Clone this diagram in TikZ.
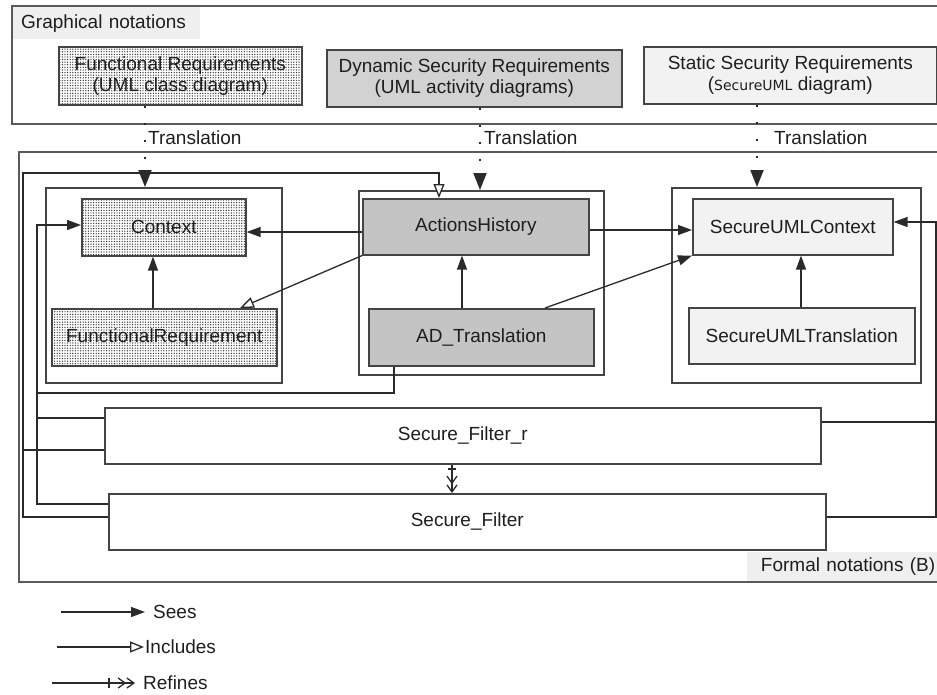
\documentclass[tikz,border=0pt]{standalone}
\usepackage{fontspec}
\setmainfont{Liberation Sans}
\newfontfamily\smallsans{DejaVu Sans}
\usetikzlibrary{arrows.meta,patterns.meta,calc}
\definecolor{txt}{HTML}{1E1E1E}
\definecolor{darkG}{HTML}{C4C4C4}
\definecolor{midG}{HTML}{D2D2D2}
\definecolor{lightG}{HTML}{F2F2F2}
\definecolor{labelG}{HTML}{EFEFEF}
\definecolor{frameC}{HTML}{5A5A5A}
\definecolor{boxC}{HTML}{444444}
\definecolor{lineC}{HTML}{2A2A2A}
\begin{document}
\begin{tikzpicture}[x=1pt,y=-1pt,
  font=\fontsize{19}{21}\selectfont,
  every node/.style={text=txt},
  frame/.style={draw=frameC, line width=2pt, anchor=north west, inner sep=0pt},
  cls/.style={draw=boxC, line width=1.6pt, anchor=north west, inner sep=0pt, align=center},
  dotcls/.style={cls, preaction={fill=white}, pattern={Dots[distance=2.6pt,radius=0.7pt]}, pattern color=black!80},
  darkcls/.style={cls, fill=darkG},
  lightcls/.style={cls, fill=lightG},
  modbox/.style={draw=boxC, line width=1.6pt, anchor=north west, inner sep=0pt},
  conn/.style={draw=lineC, line width=1.3pt},
  sees/.style={conn, -{Triangle[length=14pt,width=10pt]}},
  incl/.style={conn, -{Triangle[open,length=14pt,width=11pt,fill=white]}},
  refines/.style={conn, -{Straight Barb[length=7pt,width=10pt] Straight Barb[length=7pt,width=10pt]}},
  transl/.style={draw=lineC, line width=2pt, dash pattern=on 2pt off 15pt, -{Triangle[length=17pt,width=13pt]}},
  lbl/.style={anchor=west, inner sep=0pt},
]
\useasboundingbox (0,0) rectangle (937,694);

% graphical notations
\node[fill=labelG, anchor=north west, minimum height=32pt, text width=170pt, inner xsep=9pt, inner ysep=0pt, align=left] (glabel) at (12,7) {Graphical notations};
\node[frame, minimum width=935pt, minimum height=118pt] (gframe) at (11,5) {};

\node[dotcls, minimum width=243pt, minimum height=58pt] (fr) at (58,46) {Functional Requirements\\(UML class diagram)};
\node[cls, fill=midG, minimum width=295pt, minimum height=57pt] (dsr) at (326,49) {Dynamic Security Requirements\\(UML activity diagrams)};
\node[lightcls, minimum width=293pt, minimum height=57pt] (ssr) at (643,46) {Static Security Requirements\\({\smallsans\fontsize{14}{16}\selectfont SecureUML} diagram)};

% formal notations
\node[fill=labelG, anchor=north west, minimum height=29pt, text width=186pt, inner xsep=2pt, inner ysep=0pt, align=right] (flabel) at (747,552) {Formal notations (B)};
\node[frame, minimum width=930pt, minimum height=430pt] (fframe) at (18,151) {};

\node[modbox, minimum width=236pt, minimum height=195pt] (m1) at (45,187) {};
\node[modbox, minimum width=245pt, minimum height=184pt] (m2) at (358,190) {};
\node[modbox, minimum width=249pt, minimum height=195pt] (m3) at (671,187) {};

\node[dotcls, minimum width=164pt, minimum height=57pt] (ctx) at (81,198) {Context};
\node[dotcls, minimum width=225pt, minimum height=57pt] (freq) at (51,308) {FunctionalRequirement};
\node[darkcls, minimum width=226pt, minimum height=56pt] (ah) at (362,198) {ActionsHistory};
\node[darkcls, minimum width=225pt, minimum height=57pt] (adt) at (368,308) {AD\_Translation};
\node[lightcls, minimum width=200pt, minimum height=56pt] (suc) at (692,198) {SecureUMLContext};
\node[lightcls, minimum width=226pt, minimum height=56pt] (sut) at (688,307) {SecureUMLTranslation};
\node[cls, fill=white, minimum width=716pt, minimum height=56pt] (sfr) at (104,407) {Secure\_Filter\_r};
\node[cls, fill=white, minimum width=717pt, minimum height=56pt] (sf) at (108,493) {Secure\_Filter};

% translations
\draw[transl] (fr.south -| 145,0) -- (m1.north -| 145,0);
\draw[transl] (dsr.south -| 480,0) -- (m2.north -| 480,0);
\draw[transl] (ssr.south -| 757,0) -- (m3.north -| 757,0);
\node[lbl] (t1) at (148,138) {Translation};
\node[lbl] (t2) at (484,138) {Translation};
\node[lbl] (t3) at (774,138) {Translation};

% connectors inside modules
\draw[sees] (freq.north -| 153,0) -- (ctx.south -| 153,0);
\draw[sees] (ah.west |- 0,232) -- (ctx.east |- 0,232);
\draw[incl] (ah.south west) -- (freq.north -| 240,0);
\draw[sees] (adt.north -| 462,0) -- (ah.south -| 462,0);
\draw[sees] (ah.east |- 0,230) -- (suc.west |- 0,230);
\draw[sees] (adt.north -| 545,0) -- (suc.south west);
\draw[sees] (sut.north -| 801,0) -- (suc.south -| 801,0);

% right side
\coordinate (rr1) at (936,517);
\coordinate (rr2) at (936,222);
\coordinate (rrb) at (936,422);
\draw[sees] (sf.east |- 0,517) -- (rr1) -- (rr2) -- (suc.east |- 0,222);
\draw[conn] (sfr.east |- 0,422) -- (rrb);

% left side sees Context
\coordinate (ll1) at (37,504);
\coordinate (ll2) at (37,225);
\coordinate (llb) at (37,418);
\coordinate (llc) at (37,393);
\coordinate (adtc) at (394,393);
\draw[sees] (sf.west |- 0,504) -- (ll1) -- (ll2) -- (ctx.west |- 0,225);
\draw[conn] (sfr.west |- 0,418) -- (llb);
\draw[conn] (adt.south -| 394,0) -- (adtc) -- (llc);

% left side includes ActionsHistory
\coordinate (ii1) at (23,517);
\coordinate (ii2) at (23,173);
\coordinate (ii3) at (439,173);
\coordinate (iib) at (23,450);
\draw[incl] (sf.west |- 0,517) -- (ii1) -- (ii2) -- (ii3) -- (ah.north -| 439,0);
\draw[conn] (sfr.west |- 0,450) -- (iib);

% refines
\draw[refines] (sfr.south -| 452,0) -- coordinate[pos=0.15] (tk) (sf.north -| 452,0);
\draw[conn] ($(tk)+(-4,0)$) -- ($(tk)+(4,0)$);

% legend
\node[lbl] (lsees) at (153,612) {Sees};
\node[lbl] (lincl) at (145,647) {Includes};
\node[lbl] (lref) at (143,683) {Refines};
\coordinate (ls) at (61,612);
\coordinate (li) at (57,647);
\coordinate (lr) at (52,683);
\draw[sees] (ls) -- ([xshift=-8pt]lsees.west);
\draw[incl] (li) -- ([xshift=-1pt]lincl.west);
\draw[refines] (lr) -- ([xshift=-8pt]lref.west);
\draw[conn] (109,678) -- (109,688);
\end{tikzpicture}
\end{document}
